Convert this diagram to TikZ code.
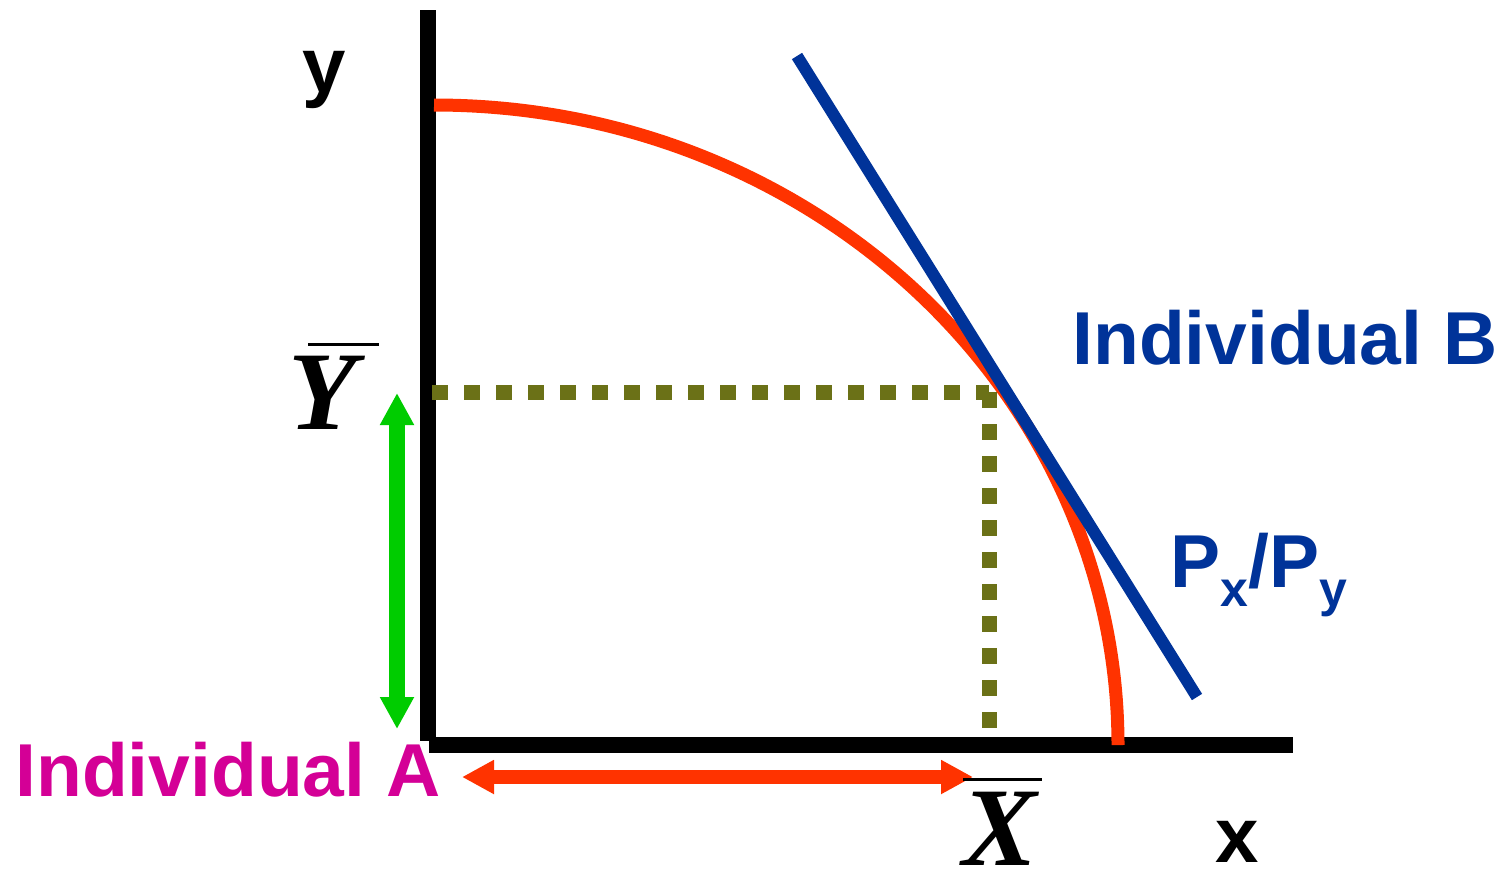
\documentclass[tikz,border=0pt]{standalone}
\usepackage{fontspec}
\setmainfont{Liberation Serif}
\setsansfont{Liberation Sans}
\usetikzlibrary{arrows.meta}

\definecolor{ppfred}{RGB}{255,51,0}
\definecolor{budgetblue}{RGB}{0,51,153}
\definecolor{dotolive}{RGB}{107,113,23}
\definecolor{arrowgreen}{RGB}{0,204,0}
\definecolor{indivpink}{RGB}{212,0,150}

\newcommand{\lowsub}[1]{\raisebox{-9.5pt}{\fontsize{25}{28}\selectfont #1}}

\tikzset{
  axisline/.style={line width=8pt, line cap=butt},
  dotline/.style={dotolive, line width=7.5pt, dash pattern=on 8pt off 8pt},
  widearrow/.style={{Triangle[length=16pt,width=16pt]}-{Triangle[length=16pt,width=16pt]}},
  sanslabel/.style={font=\fontsize{37.5}{42}\selectfont\sffamily\bfseries, inner sep=0pt},
  axislabel/.style={font=\fontsize{39}{42}\selectfont\sffamily\bfseries, inner sep=0pt, anchor=base},
  barlabel/.style={font=\fontsize{56}{60}\selectfont\bfseries\itshape, inner sep=0pt, anchor=base},
  overbar/.style={line width=1.5pt}
}

\begin{document}
\begin{tikzpicture}[x=0.5pt, y=-0.5pt]
      \useasboundingbox (0,0) rectangle (1499,880);

      % Key points of the diagram
      \coordinate (ytop) at (428,10);
      \coordinate (ybottom) at (428,741);
      \coordinate (xleft) at (429,745);
      \coordinate (xright) at (1293,745);
      \coordinate (ppftop) at (434,105);
      \coordinate (tangent) at (989,392);
      \coordinate (yendowed) at (432,392);
      \coordinate (xendowed) at (989,730);
      \coordinate (budgettop) at (797,56);
      \coordinate (budgetbottom) at (1197,697);

      % Axes
      \draw[axisline] (ytop) -- (ybottom);
      \draw[axisline] (xleft) -- (xright);

      % Production possibility frontier
      \draw[ppfred, line width=6.5pt] (ppftop)
        arc[start angle=-90, end angle=0, x radius=684, y radius=640];

      % Budget line
      \draw[budgetblue, line width=6pt] (budgettop) -- (budgetbottom);

      % Endowment guides
      \draw[dotline] (yendowed) -- (tangent);
      \draw[dotline] (tangent) -- (xendowed);

      % Double arrows of individual A
      \coordinate (garrowtop) at (397,393);
      \coordinate (garrowbottom) at (397,729);
      \coordinate (rarrowleft) at (462,777);
      \coordinate (rarrowright) at (973,777);
      \draw[widearrow, arrowgreen, line width=8pt] (garrowtop) -- (garrowbottom);
      \draw[widearrow, ppfred, line width=7pt] (rarrowleft) -- (rarrowright);

      % Axis labels
      \node[axislabel] (ylabel) at (324,92) {y};
      \node[axislabel] (xlabel) at (1237,862) {x};

      % Endowment labels with bars
      \node[barlabel] (ybar) at (323,429) {Y};
      \draw[overbar] ([shift={(-15,-11)}]ybar.north) -- ++(71,0);
      \node[barlabel] (xbar) at (1000,865) {X};
      \draw[overbar] ([shift={(-37,-12)}]xbar.north) -- ++(79,0);

      % Individual labels
      \node[sanslabel, budgetblue, anchor=base west] (indivB) at (1072,364) {Individual B};
      \node[sanslabel, indivpink, anchor=base west] (indivA) at (15,796) {Individual A};
      \node[sanslabel, budgetblue, anchor=base west] (priceratio) at (1170,587)
        {P\lowsub{x}/P\lowsub{y}};

    \end{tikzpicture}
\end{document}
